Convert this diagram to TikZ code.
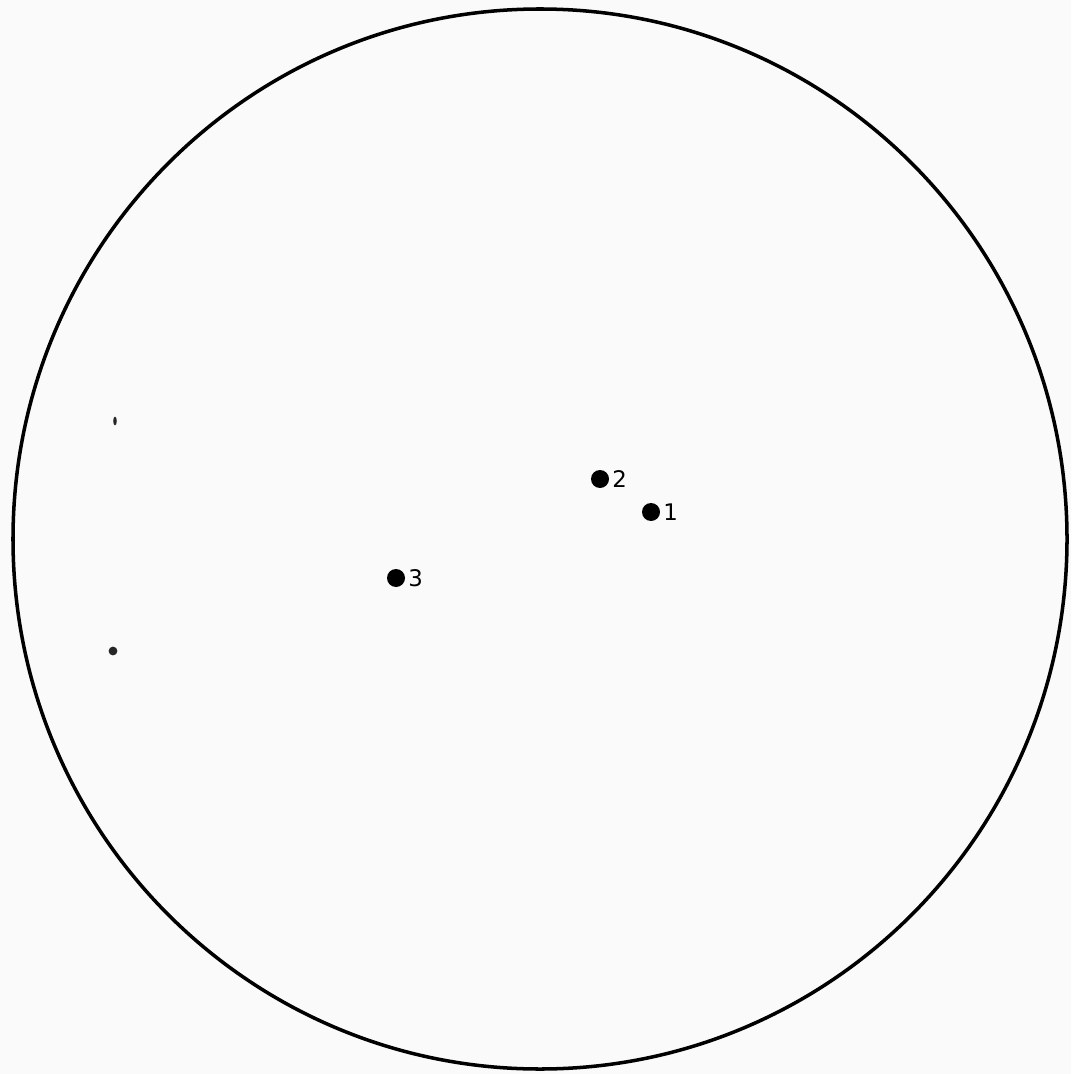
\documentclass[tikz,border=0pt]{standalone}
\usepackage{fontspec}
\setmainfont{DejaVu Sans}
\usetikzlibrary{positioning,shapes.geometric}

\begin{document}
\begin{tikzpicture}[
  x=0.02cm, y=-0.02cm,
  star/.style={
    circle,
    fill=black,
    inner sep=0pt,
    minimum size=0.36cm
  },
  starlabel/.style={
    inner sep=0pt,
    font=\fontsize{13}{14}\selectfont
  },
  speck/.style={
    fill=black!85,
    inner sep=0pt
  }
]
  \fill[black!2] (0,0) rectangle (1071,1074);
  \useasboundingbox (0,0) rectangle (1071,1074);

  % field of view
  \draw[line width=2pt] (540,539) ellipse [x radius=527, y radius=530];

  % stars
  \node[star] (s1) at (651,512) {};
  \node[starlabel] (l1) [right=1.5pt of s1] {1};
  \node[star] (s2) at (600,479) {};
  \node[starlabel] (l2) [right=1.5pt of s2] {2};
  \node[star] (s3) at (396,578) {};
  \node[starlabel] (l3) [right=1.5pt of s3] {3};

  % specks
  \node[speck, ellipse, minimum width=2pt, minimum height=5pt] (p1) at (115,421) {};
  \node[speck, circle, minimum size=5pt] (p2) at (113,651) {};
\end{tikzpicture}
\end{document}
